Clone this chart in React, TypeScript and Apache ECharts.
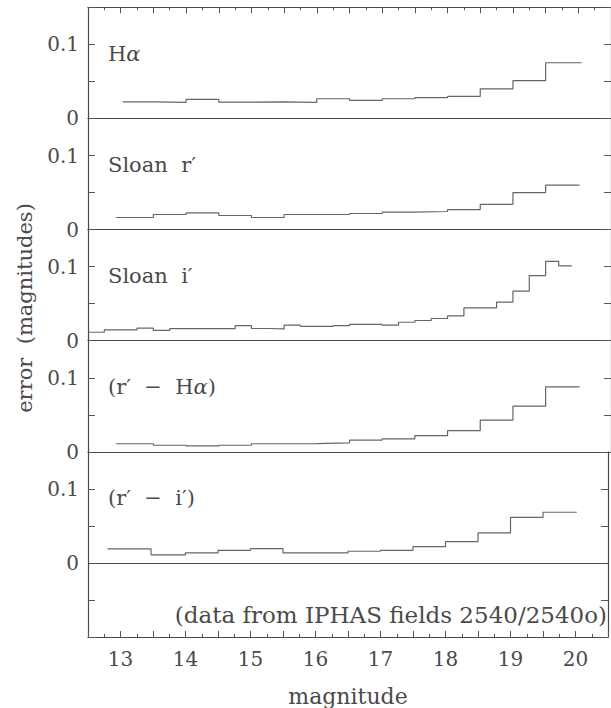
import React, { useEffect, useRef } from 'react';
import * as echarts from 'echarts';

// ---- data (magnitude bin edges, error values in magnitudes) ----
const haEdges = [13.03, 13.5, 14, 14.5, 15, 15.5, 16, 16.5, 17, 17.5, 18, 18.5, 19, 19.5, 20.05];
const haValues = [0.0225, 0.0216, 0.0257, 0.022, 0.0225, 0.0216, 0.0266, 0.0243, 0.0266, 0.028, 0.0297, 0.040, 0.051, 0.0752];

const rEdges = [12.93, 13.5, 14, 14.5, 15, 15.5, 16, 16.5, 17, 17.5, 18, 18.5, 19, 19.5, 20.02];
const rValues = [0.0163, 0.0204, 0.0226, 0.019, 0.0163, 0.0204, 0.0204, 0.0217, 0.0235, 0.0244, 0.027, 0.034, 0.050, 0.060];

const iEdges = [12.5, 12.75, 13, 13.25, 13.5, 13.75, 14, 14.25, 14.5, 14.75, 15, 15.25, 15.5, 15.75, 16, 16.25, 16.5, 16.75, 17, 17.25, 17.5, 17.75, 18, 18.25, 18.5, 18.75, 19, 19.25, 19.5, 19.7, 19.9];
const iValues = [0.0115, 0.0147, 0.0147, 0.017, 0.014, 0.0163, 0.0163, 0.0163, 0.0163, 0.0203, 0.0165, 0.016, 0.021, 0.0195, 0.0195, 0.0205, 0.022, 0.022, 0.021, 0.025, 0.0273, 0.030, 0.0335, 0.0445, 0.0445, 0.052, 0.067, 0.088, 0.107, 0.101];

const rhaEdges = [12.93, 13.5, 14, 14.5, 15, 15.5, 16, 16.5, 17, 17.5, 18, 18.5, 19, 19.5, 20.02];
const rhaValues = [0.011, 0.009, 0.008, 0.009, 0.011, 0.0113, 0.0122, 0.0158, 0.0176, 0.022, 0.0288, 0.043, 0.0617, 0.0878];

const riEdges = [12.8, 13.47, 14, 14.5, 15, 15.5, 16, 16.5, 17, 17.5, 18, 18.5, 19, 19.5, 20.02];
const riValues = [0.0189, 0.0108, 0.0135, 0.017, 0.0194, 0.0135, 0.0135, 0.0158, 0.0171, 0.022, 0.0288, 0.0405, 0.0617, 0.0685];

const panelLabels = ['Hα', 'Sloan  r′', 'Sloan  i′', '(r′  −  Hα)', '(r′  −  i′)'];
const yTickLabels: Record<string, string> = { '0': '0', '0.1': '0.1' };
const xName = 'magnitude';
const yName = 'error  (magnitudes)';
const noteText = '(data from IPHAS fields 2540/2540o)';

const panels = [
  { edges: haEdges, values: haValues },
  { edges: rEdges, values: rValues },
  { edges: iEdges, values: iValues },
  { edges: rhaEdges, values: rhaValues },
  { edges: riEdges, values: riValues },
];

function stepData(edges: number[], values: number[]) {
  const pts: number[][] = values.map((v, i) => [edges[i], v]);
  pts.push([edges[edges.length - 1], values[values.length - 1]]);
  return pts;
}

const FONT = 'DejaVu Serif';
const FRAME = '#4a4a4a';
const LINE = '#666';
const TEXT = '#4a4a4a';

export default function App() {
  const ref = useRef<HTMLDivElement>(null);
  useEffect(() => {
    const chart = echarts.init(ref.current!, null, { renderer: 'svg' });
    const left = 88;
    const width = 524;
    const unit = 741; // px per magnitude of error
    const tops: number[] = [];
    const heights: number[] = [];
    let t = 7.3;
    panels.forEach((_, i) => {
      tops.push(t);
      heights.push(i < 4 ? 0.15 * unit : 0.25 * unit);
      t += 0.15 * unit;
    });
    const frameLine = { color: FRAME, width: 1.2 };
    const tickLine = { color: '#555', width: 1 };
    const grid = panels.map((_, i) => ({ left, width, top: tops[i], height: heights[i] }));
    const xAxis: any[] = panels.map((_, i) => ({
      type: 'value', gridIndex: i, min: 12.5, max: 20.5, interval: 0.5, position: 'bottom',
      axisLine: { show: true, onZero: false, lineStyle: frameLine },
      axisTick: { show: i === 4, inside: true, length: 6, lineStyle: tickLine },
      minorTick: { show: i === 4, splitNumber: 2, length: 3, lineStyle: tickLine },
      axisLabel: {
        show: i === 4, margin: 12, fontFamily: FONT, fontSize: 20, color: TEXT,
        formatter: (v: number) => (Math.abs(v - Math.round(v)) < 1e-9 ? String(Math.round(v)) : ''),
      },
      splitLine: { show: false },
      name: i === 4 ? xName : '', nameLocation: 'middle', nameGap: 48,
      nameTextStyle: { fontFamily: FONT, fontSize: 22, color: TEXT },
    }));
    xAxis.push({
      type: 'value', gridIndex: 0, min: 12.5, max: 20.5, interval: 0.5, position: 'top',
      axisLine: { show: true, onZero: false, lineStyle: frameLine },
      axisTick: { show: true, inside: true, length: 6, lineStyle: tickLine },
      minorTick: { show: true, splitNumber: 2, length: 3, lineStyle: tickLine },
      axisLabel: { show: false }, splitLine: { show: false },
    });
    const yLeft = panels.map((_, i) => ({
      type: 'value', gridIndex: i, min: i === 4 ? -0.1 : 0, max: 0.15, interval: 0.05, position: 'left',
      axisLine: { show: true, onZero: false, lineStyle: frameLine },
      axisTick: { show: true, inside: true, length: 7, lineStyle: tickLine },
      axisLabel: {
        margin: 9, fontFamily: FONT, fontSize: 20, color: TEXT,
        formatter: (v: number) => {
          const key = String(Math.round(v * 100) / 100);
          return yTickLabels[key] ?? '';
        },
      },
      splitLine: { show: false },
    }));
    const yRight = panels.map((_, i) => ({
      type: 'value', gridIndex: i, min: i === 4 ? -0.1 : 0, max: 0.15, interval: 0.05, position: 'right',
      axisLine: { show: true, onZero: false, lineStyle: frameLine },
      axisTick: { show: true, inside: true, length: 7, lineStyle: tickLine },
      axisLabel: { show: false }, splitLine: { show: false },
    }));
    const series: any[] = panels.map((p, i) => ({
      type: 'line', xAxisIndex: i, yAxisIndex: i, data: stepData(p.edges, p.values),
      step: 'end', symbol: 'none', silent: true,
      lineStyle: { color: LINE, width: 1.2 },
      markLine: i === 4 ? {
        silent: true, symbol: 'none', label: { show: false },
        lineStyle: { color: FRAME, width: 1.2, type: 'solid' },
        data: [{ yAxis: 0 }],
      } : undefined,
    }));
    const graphic: any[] = panelLabels.map((lab, i) => {
      const rich = { a: { fontStyle: 'italic', fontFamily: FONT, fontSize: 21, fill: TEXT } };
      return {
        type: 'text', left: 108, top: tops[i] + 36,
        style: {
          text: lab.replace(/α/g, '{a|α}'), rich,
          fontFamily: FONT, fontSize: 21, fill: TEXT,
        },
      };
    });
    graphic.push({
      type: 'text', right: 4, top: 603,
      style: { text: noteText, fontFamily: FONT, fontSize: 23, fill: TEXT },
    });
    graphic.push({
      type: 'text', x: 25, y: 308, rotation: Math.PI / 2,
      style: { text: yName, fontFamily: FONT, fontSize: 21, fill: TEXT, align: 'center', verticalAlign: 'middle' },
    });
    chart.setOption({
      animation: false,
      backgroundColor: '#fff',
      grid, xAxis, yAxis: [...yLeft, ...yRight], series, graphic,
    });
    return () => chart.dispose();
  }, []);
  return <div ref={ref} style={{ position: 'fixed', left: 0, top: 0, width: 611, height: 708 }} />;
}
